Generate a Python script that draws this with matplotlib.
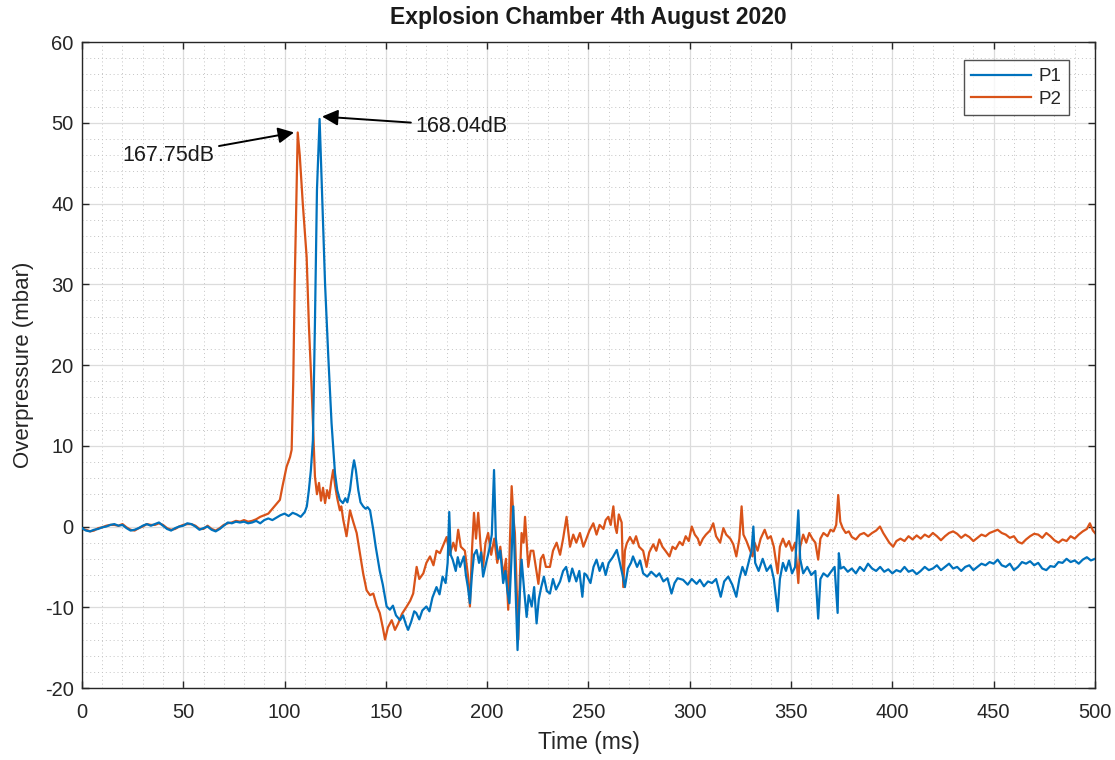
import numpy as np
import matplotlib
matplotlib.use("Agg")
import matplotlib.pyplot as plt
from matplotlib.ticker import MultipleLocator

# ---------------- data (time in ms, overpressure in mbar) ----------------
time_p1 = [0, 2, 4, 6, 8, 10, 12, 14, 16, 18, 20, 22, 24, 26, 28, 30, 32, 34, 36, 38,
           40, 42, 44, 46, 48, 50, 52, 54, 56, 58, 60, 62, 64, 66, 68, 70, 72, 74, 76, 78,
           80, 82, 84, 86, 88, 90, 92, 94, 96, 98, 100, 102, 104, 106, 108, 110, 111, 112, 113, 114,
           115, 116, 117.3, 118, 119, 120, 121.6, 123.2, 124.9, 126, 127.3, 128.8, 130, 131, 132.3, 133.5, 134.3, 135.2, 136.4, 137.5,
           138.8, 140, 141, 142.2, 143.8, 145, 147, 148.5, 150.4, 152, 153.5, 155, 157, 158.5, 160, 161, 162.5, 164, 165, 166.5,
           168, 170, 171.5, 173, 175, 176.5, 178, 179.5, 180.5, 181.3, 182, 183, 184.5, 185.5, 186.6, 188.5, 189.5, 190.5, 191.5, 192.5,
           193.5, 194.8, 196, 197, 198, 199.5, 201, 202.3, 203.4, 204.3, 205.5, 206.5, 207.9, 209, 210, 211, 212, 212.9, 213.8, 215,
           216, 217, 218.3, 219.5, 220.5, 222, 223.2, 224.4, 225.5, 226.7, 228, 229.5, 231, 232.5, 234, 236, 237.5, 239, 240.5, 242,
           244, 245.5, 247, 248, 249, 251, 252.5, 254, 255.5, 257, 258.5, 260, 262, 264, 265.5, 267, 268, 269.5, 271, 272,
           274, 275.5, 277, 279, 281, 283.5, 285, 287, 289, 291, 292.5, 294, 296.7, 299, 301, 303.4, 305, 307, 309, 311,
           313, 315.3, 317, 319, 321, 323, 324.5, 326, 327.5, 329, 330.5, 331.4, 332.3, 334, 336, 338, 340, 341.5, 343.4, 344.5,
           346, 347.5, 349, 350.5, 352, 353.6, 354.5, 356, 358, 360, 362, 363.4, 364.5, 366, 368, 370, 371.5, 373, 373.6, 374.5,
           376, 378, 380, 382, 384, 386, 388, 390, 392, 394, 396, 398, 400, 402, 404, 406, 408, 410, 412, 414,
           416, 418, 420, 422, 424, 426, 428, 430, 432, 434, 436, 438, 440, 442, 444, 446, 448, 450, 452, 454,
           456, 458, 460, 462, 464, 466, 468, 470, 472, 474, 476, 478, 480, 482, 484, 486, 488, 490, 492, 494,
           496, 498, 500]
p1_mbar = [-0.2, -0.5, -0.6, -0.4, -0.3, -0.1, 0.0, 0.2, 0.3, 0.1, 0.2, -0.2, -0.5, -0.4, -0.2, 0.1, 0.3, 0.1, 0.3, 0.5,
           0.1, -0.3, -0.5, -0.2, 0.0, 0.1, 0.4, 0.3, 0.0, -0.4, -0.2, 0.0, -0.4, -0.6, -0.3, 0.1, 0.5, 0.4, 0.6, 0.5,
           0.6, 0.4, 0.5, 0.7, 0.4, 0.8, 1.0, 0.8, 1.1, 1.4, 1.6, 1.3, 1.7, 1.5, 1.2, 1.8, 2.5, 4.5, 7.0, 10.7,
           25.2, 41.7, 50.47, 45.0, 37.6, 30.0, 21.0, 12.8, 6.6, 4.5, 3.3, 2.9, 3.5, 3.0, 4.5, 7.0, 8.2, 7.0, 4.5, 3.0,
           2.5, 2.2, 2.4, 2.0, -0.4, -2.5, -5.5, -7.2, -9.9, -10.3, -9.8, -11.0, -11.6, -11.0, -12.2, -12.8, -11.8, -10.5, -10.7, -11.5,
           -10.4, -9.9, -10.5, -8.8, -7.5, -8.4, -6.2, -7.0, -4.5, 1.8, -3.5, -4.1, -5.5, -3.8, -5.0, -3.7, -6.0, -7.5, -9.5, -6.0,
           -3.5, -2.9, -4.5, -3.2, -6.2, -4.5, -2.9, -1.0, 7.0, -1.5, -4.0, -3.0, -7.0, -5.5, -8.0, -9.5, -4.0, 2.5, -6.0, -15.3,
           -9.0, -4.1, -8.0, -11.2, -8.5, -9.9, -7.5, -12.0, -9.0, -7.5, -6.2, -8.0, -8.3, -6.5, -7.8, -6.8, -5.5, -5.0, -6.8, -5.2,
           -6.8, -5.5, -8.7, -5.8, -6.0, -7.0, -5.0, -4.1, -5.5, -4.5, -6.0, -4.5, -3.8, -2.9, -4.5, -6.2, -7.5, -5.2, -4.5, -3.7,
           -5.0, -4.2, -5.8, -6.2, -5.6, -6.2, -5.8, -6.8, -6.4, -8.3, -7.0, -6.4, -6.6, -7.2, -6.5, -7.1, -6.6, -7.4, -6.8, -7.0,
           -6.5, -8.7, -6.8, -6.2, -7.2, -8.7, -6.5, -5.0, -6.0, -4.5, -3.0, 0.0, -4.5, -5.5, -4.0, -5.5, -4.8, -6.5, -10.5, -6.5,
           -4.5, -5.5, -4.2, -5.8, -5.0, 2.0, -4.0, -5.8, -5.0, -6.0, -5.5, -11.4, -6.5, -5.8, -6.2, -5.5, -5.0, -10.7, -3.3, -5.2,
           -5.0, -5.6, -5.2, -5.8, -5.0, -5.5, -4.6, -5.2, -5.5, -5.0, -5.6, -5.3, -5.8, -5.4, -5.6, -5.0, -5.6, -5.4, -5.9, -5.5,
           -5.0, -5.4, -5.2, -4.8, -5.4, -5.0, -4.6, -5.2, -5.0, -5.5, -5.0, -4.8, -5.4, -5.0, -4.6, -4.8, -4.4, -4.6, -4.1, -4.8,
           -5.0, -4.6, -5.4, -5.0, -4.4, -4.6, -4.3, -4.8, -4.5, -5.2, -5.4, -4.9, -5.0, -4.4, -4.5, -4.0, -4.4, -4.2, -4.6, -4.1,
           -3.8, -4.2, -4.0]

time_p2 = [0, 2, 4, 6, 8, 10, 12, 14, 16, 18, 20, 22, 24, 26, 28, 30, 32, 34, 36, 38,
           40, 42, 44, 46, 48, 50, 52, 54, 56, 58, 60, 62, 64, 66, 68, 70, 72, 74, 76, 78,
           80, 82, 84, 86, 88, 90, 92, 94, 96, 97.7, 99, 101, 102.7, 103.5, 104.3, 105, 105.6, 106.5, 107.5, 109,
           110.9, 112, 113.4, 115, 116, 117, 118, 119, 120, 121, 122, 123, 124, 125, 126, 127.3, 128, 129, 130.6, 132.3,
           134, 135.6, 137, 138.8, 140.5, 142.2, 143.8, 145.5, 147, 148.5, 149.6, 151, 152.9, 154.5, 156.1, 158, 160.3, 162, 163.5, 165.2,
           166.5, 168.5, 170, 171.8, 173.5, 175, 176.7, 178.5, 180, 181.5, 183.3, 184.5, 185.7, 187, 189, 190.5, 191.5, 192.5, 193.5, 194.5,
           195.6, 196.8, 198, 199.2, 200.5, 202, 203.5, 205, 206.5, 208, 209.3, 210.4, 211.2, 212.1, 213, 213.7, 214.6, 215.4, 216.2, 217,
           218, 218.7, 219.5, 220.3, 221.5, 222.8, 224, 225.3, 226.5, 227.7, 229, 231, 232.5, 234.3, 236, 237.5, 239.2, 240.9, 242.5, 244,
           245.8, 247.5, 249, 250.5, 252.4, 254, 255.5, 257.4, 258.5, 259.8, 261, 262.3, 263.2, 264, 265, 266.4, 267.2, 268, 268.9, 270.5,
           272.2, 273.5, 275, 277, 278.7, 280, 282, 283.5, 285, 286.5, 288, 290, 291.5, 293, 295, 296.5, 298, 299.5, 301, 302.5,
           304, 305, 306.5, 308, 310, 311.6, 313, 315, 316.6, 318, 320, 321.5, 323, 324.5, 325.6, 326.5, 328, 329.5, 331, 332,
           333.5, 335, 337, 338.5, 340, 341.5, 343.4, 344.5, 346, 347.5, 349, 350.5, 352, 353.6, 354.5, 356, 357.5, 359, 360.5, 362,
           363.4, 364.5, 366, 368, 369.5, 371, 372.3, 373.3, 374.3, 375.5, 377, 378.5, 380, 382, 384, 386, 388, 390, 392, 393.9,
           395.5, 397, 398.5, 400.4, 402, 404, 406, 408, 410, 412, 414, 416, 418, 420, 422, 424, 426, 428, 430, 432,
           434, 436, 438, 440, 442, 444, 446, 448, 450, 452, 454, 456, 458, 460, 462, 464, 466, 468, 470, 472,
           474, 476, 478, 480, 482, 484, 486, 488, 490, 492, 494, 496, 497.5, 499, 500]
p2_mbar = [-0.3, -0.4, -0.6, -0.5, -0.2, -0.1, 0.1, 0.2, 0.2, 0.1, 0.3, -0.1, -0.4, -0.5, -0.2, 0.0, 0.3, 0.2, 0.2, 0.4,
           0.2, -0.2, -0.4, -0.3, 0.0, 0.2, 0.3, 0.3, 0.1, -0.3, -0.3, 0.1, -0.3, -0.5, -0.2, 0.2, 0.4, 0.5, 0.7, 0.6,
           0.8, 0.6, 0.7, 0.9, 1.2, 1.4, 1.6, 2.2, 2.8, 3.3, 5.0, 7.4, 8.6, 9.5, 18.0, 30.0, 37.6, 48.8, 46.0, 40.0,
           33.4, 25.0, 16.9, 6.2, 4.0, 5.4, 3.2, 4.8, 2.9, 4.5, 3.5, 5.5, 7.0, 5.0, 3.5, 2.0, 2.5, 0.8, -1.2, 2.0,
           0.5, -0.8, -3.0, -5.8, -7.9, -8.5, -8.3, -9.8, -10.7, -12.5, -14.0, -12.5, -11.6, -12.8, -12.0, -10.8, -9.9, -9.2, -8.3, -5.0,
           -6.5, -5.8, -4.5, -3.7, -4.8, -3.0, -3.3, -2.2, -1.3, -3.5, -2.0, -3.0, -0.4, -2.5, -3.0, -6.0, -9.9, -3.0, 1.7, -1.5,
           1.7, -2.5, -5.0, -2.0, -0.8, -3.5, -1.5, -4.5, -2.5, -6.2, -4.0, -10.3, -2.0, 5.0, 1.0, -0.8, -8.0, -14.0, -6.0, -0.8,
           -2.0, 1.2, -2.0, -5.0, -3.0, -3.0, -5.0, -7.1, -4.0, -3.5, -5.0, -5.0, -3.0, -2.0, -3.5, -1.5, 1.2, -2.5, -1.0, -2.0,
           -0.8, -2.5, -1.5, -0.5, 0.4, -1.0, 0.2, -0.3, 0.8, 1.2, 0.2, 2.5, 0.0, -0.8, 1.5, 0.5, -7.5, -3.0, -2.1, -1.3,
           -2.1, -1.2, -2.5, -3.0, -5.0, -3.2, -2.2, -3.0, -1.6, -2.5, -3.0, -3.7, -2.5, -2.8, -1.9, -2.3, -1.2, -1.8, 0.0, -1.0,
           -1.5, -2.3, -1.5, -1.0, -0.5, 0.4, -1.2, -2.0, -0.2, -1.0, -1.5, -2.2, -3.7, -1.5, 2.5, -1.0, -1.8, -2.8, -3.7, -2.0,
           -3.0, -1.5, -0.4, -1.5, -1.2, -2.5, -5.8, -2.5, -1.5, -2.5, -1.8, -3.0, -2.0, -7.0, -2.5, -1.0, -2.0, -0.8, -1.5, -2.0,
           -4.1, -1.5, -0.8, -1.2, -0.4, -0.6, 0.2, 3.9, 0.6, -0.2, -0.8, -0.6, -1.3, -1.6, -1.0, -0.8, -1.2, -0.8, -0.5, 0.0,
           -0.8, -1.4, -2.0, -2.5, -1.8, -1.5, -1.8, -1.2, -1.6, -1.1, -1.5, -1.0, -1.3, -0.8, -1.2, -1.7, -1.2, -0.8, -0.6, -0.9,
           -1.4, -1.0, -1.3, -1.8, -1.4, -1.0, -1.2, -0.8, -0.6, -0.4, -0.8, -1.0, -1.4, -1.2, -1.9, -2.1, -1.6, -1.2, -0.9, -1.0,
           -1.4, -0.8, -1.2, -1.7, -2.0, -1.6, -1.8, -1.2, -1.5, -1.0, -0.6, -0.3, 0.4, -0.5, -0.8]

series_names = ["P1", "P2"]
x_ticks = list(range(0, 501, 50))
y_ticks = list(range(-20, 61, 10))

# ---------------- styling ----------------
plt.rcParams["font.family"] = ["Liberation Sans", "DejaVu Sans"]
plt.rcParams["axes.unicode_minus"] = False
text_col = "#262626"
blue = "#0072BD"
orange = "#D95319"

fig = plt.figure(figsize=(11.15, 7.60), dpi=100)
ax = fig.add_axes([0.0735, 0.0947, 0.9085, 0.85])

ax.plot(time_p1, p1_mbar, color=blue, lw=1.6, label=series_names[0], zorder=3)
ax.plot(time_p2, p2_mbar, color=orange, lw=1.6, label=series_names[1], zorder=2)

ax.set_xlim(0, 500)
ax.set_ylim(-20, 60)
ax.set_xticks(x_ticks)
ax.set_yticks(y_ticks)
ax.xaxis.set_minor_locator(MultipleLocator(10))
ax.yaxis.set_minor_locator(MultipleLocator(2))

ax.grid(which="major", color="#dcdcdc", lw=0.9, ls="-", zorder=0)
ax.grid(which="minor", color="#c4c4c4", lw=0.7, ls=(0, (1, 3)), zorder=0)
ax.set_axisbelow(True)

ax.tick_params(which="major", direction="in", length=5, width=1, color=text_col,
               labelsize=14.5, labelcolor=text_col, top=True, right=True, pad=6)
ax.tick_params(axis="x", which="major", pad=11)
ax.tick_params(which="minor", length=0, top=True, right=True)
for sp in ax.spines.values():
    sp.set_color(text_col)
    sp.set_linewidth(1.0)

ax.set_xlabel("Time (ms)", fontsize=16.5, color=text_col, labelpad=6)
ax.set_ylabel("Overpressure (mbar)", fontsize=16, color=text_col, labelpad=8)
ax.set_title("Explosion Chamber 4th August 2020", fontsize=16.5, fontweight="bold",
             color="#1a1a1a", pad=13)

leg = ax.legend(loc="upper right", bbox_to_anchor=(0.984, 0.986), fontsize=13.5,
                frameon=True, fancybox=False, edgecolor=text_col, handlelength=3.2,
                borderpad=0.4, labelspacing=0.3, handletextpad=0.4)
leg.get_frame().set_linewidth(1.0)
for t in leg.get_texts():
    t.set_color(text_col)

# ---------------- peak annotations (sound pressure level of each peak) ----------------
def spl_db(mbar):
    return 20 * np.log10(mbar * 100.0 / 20e-6)

i1 = int(np.argmax(p1_mbar))
i2 = int(np.argmax(p2_mbar))
peak1_t, peak1_v = time_p1[i1], p1_mbar[i1]
peak2_t, peak2_v = time_p2[i2], p2_mbar[i2]

arrow = dict(arrowstyle="-|>", color="black", lw=1.4, mutation_scale=24,
             shrinkA=1, shrinkB=0)
ax.annotate(f"{spl_db(peak2_v):.2f}dB", xy=(peak2_t - 1.8, peak2_v),
            xytext=(65.6, 46.0), ha="right", va="center", fontsize=15.5,
            color="#1a1a1a", arrowprops=arrow, zorder=5)
ax.annotate(f"{spl_db(peak1_v):.2f}dB", xy=(peak1_t + 1.2, peak1_v + 0.3),
            xytext=(164.4, 49.6), ha="left", va="center", fontsize=15.5,
            color="#1a1a1a", arrowprops=arrow, zorder=5)

fig.savefig("out.png", dpi=100, facecolor="white")
